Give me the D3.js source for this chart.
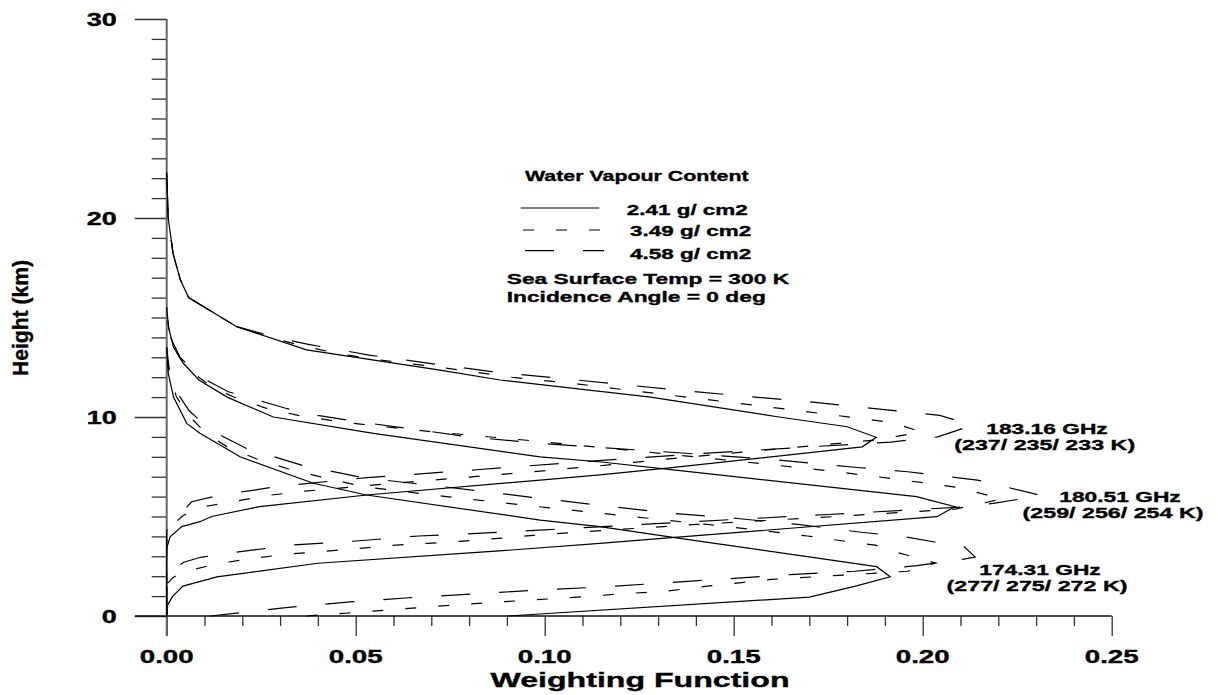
<!DOCTYPE html>
<html><head><meta charset="utf-8">
<script src="https://cdnjs.cloudflare.com/ajax/libs/d3/7.8.5/d3.min.js"></script>
<style>
body{margin:0;background:#fff}
svg{display:block}
text{font-family:"Liberation Sans",Arial,sans-serif;font-weight:bold;fill:#000;stroke:#000;stroke-width:0.35px}
</style>
</head><body>
<svg width="1218" height="695"></svg>
<script>
// ---------- DATA : [height km, weighting function] ----------
const xTicksMajor = [0, 0.05, 0.10, 0.15, 0.20, 0.25];
const xTickLabels = ["0.00", "0.05", "0.10", "0.15", "0.20", "0.25"];
const yTicksMajor = [0, 10, 20, 30];
const yTickLabels = ["0", "10", "20", "30"];

const seriesNames = ["2.41 g/ cm2", "3.49 g/ cm2", "4.58 g/ cm2"];
const channelNames = ["183.16 GHz", "180.51 GHz", "174.31 GHz"];
const channelTemps = ["(237/ 235/ 233 K)", "(259/ 256/ 254 K)", "(277/ 275/ 272 K)"];

const c183_241 = [[0,0],[3.4,0],[3.98,0.0009],[4.49,0.004],[4.74,0.0088],[5.0,0.0119],[5.5,0.0246],[6.08,0.0529],[6.83,0.0988],[7.09,0.1146],[7.44,0.133],[8.5,0.184],[8.98,0.1877],[9.51,0.180],[10.0,0.162],[11.0,0.128],[11.86,0.0882],[12.36,0.0723],[13.37,0.037],[14.54,0.0185],[16.0,0.0058],[16.9,0.0036],[18.2,0.0017],[20.0,0.0004],[22.3,0]];
const c183_349 = [[0,0],[4.0,0],[4.5,0.0012],[5.0,0.004],[5.33,0.007],[5.49,0.0097],[5.72,0.017],[6.04,0.026],[6.26,0.0357],[6.6,0.056],[7.28,0.0988],[7.55,0.1146],[7.9,0.133],[8.45,0.165],[8.85,0.188],[9.25,0.1996],[9.72,0.192],[10.3,0.168],[10.9,0.142],[11.42,0.119],[11.65,0.109],[12.0,0.0913],[12.5,0.072],[12.9,0.055],[13.19,0.0453],[13.52,0.0372],[13.98,0.0277],[14.54,0.0185],[16.0,0.0058],[16.9,0.0036],[18.2,0.0017],[20.0,0.0004],[22.3,0]];
const c183_458 = [[0,0],[4.3,0],[4.8,0.002],[5.3,0.0045],[5.74,0.0066],[6.08,0.0141],[6.3,0.0222],[6.53,0.030],[6.95,0.053],[7.35,0.082],[7.75,0.11],[8.15,0.14],[8.5,0.17],[8.74,0.1915],[9.0,0.204],[9.45,0.211],[9.6,0.213],[10.08,0.2045],[10.45,0.186],[10.8,0.168],[11.06,0.152],[11.36,0.135],[11.66,0.119],[11.96,0.103],[12.28,0.086],[12.68,0.07],[13.1,0.054],[13.65,0.0375],[14.0,0.029],[14.54,0.0185],[16.0,0.0058],[16.9,0.0036],[18.2,0.0017],[20.0,0.0004],[22.3,0]];

const c180_241 = [[0,0],[0.47,0],[0.97,0.0015],[1.5,0.0043],[1.97,0.0133],[2.65,0.040],[3.23,0.085],[3.65,0.1146],[3.9,0.131],[4.99,0.2037],[5.49,0.2085],[6.0,0.1984],[7.34,0.134],[7.74,0.115],[8.0,0.0988],[9.18,0.0547],[10.0,0.0282],[11.0,0.016],[11.86,0.0085],[12.7,0.0044],[13.5,0.0018],[14.5,0.0005],[15.5,0]];
const c180_349 = [[0,0],[1.6,0],[1.9,0.0015],[2.2,0.004],[2.64,0.0137],[2.89,0.0227],[3.11,0.0318],[3.24,0.0411],[3.39,0.0505],[3.55,0.0597],[3.65,0.069],[3.76,0.0784],[3.9,0.0877],[4.05,0.097],[4.18,0.106],[4.6,0.14],[5.0,0.177],[5.37,0.2085],[5.88,0.221],[6.45,0.2095],[6.88,0.193],[7.3,0.175],[7.8,0.15],[8.3,0.124],[8.8,0.097],[9.3,0.068],[9.75,0.046],[10.08,0.0348],[10.46,0.026],[10.94,0.0185],[11.5,0.012],[12.5,0.005],[13.5,0.0019],[14.5,0.0005],[15.5,0]];
const c180_458 = [[0,0],[2.0,0],[2.3,0.0013],[2.7,0.0045],[2.95,0.009],[3.18,0.0173],[3.57,0.0336],[3.77,0.0502],[4.02,0.0667],[4.16,0.0833],[4.33,0.0998],[4.7,0.135],[5.1,0.175],[5.49,0.2116],[5.66,0.2187],[6.05,0.2315],[6.83,0.2145],[7.1,0.2025],[7.25,0.196],[7.45,0.1835],[7.9,0.158],[8.3,0.128],[8.66,0.1],[9.0,0.08],[9.4,0.065],[9.75,0.051],[10.15,0.0375],[10.44,0.0315],[10.85,0.024],[11.27,0.0163],[12.0,0.009],[13.0,0.0035],[14.0,0.001],[15.5,0]];

const c174_241 = [[0,0.0902],[0.95,0.170],[1.51,0.1825],[1.97,0.1914],[2.48,0.1878],[3.85,0.1376],[4.49,0.1146],[4.82,0.0988],[6.08,0.0529],[6.67,0.0388],[8.0,0.0194],[9.18,0.0088],[9.68,0.0053],[11.0,0.0018],[12.2,0.0004],[13.5,0]];
const c174_349 = [[0,0.037],[0.15,0.0479],[0.42,0.0665],[0.67,0.0851],[0.89,0.1039],[1.14,0.1226],[1.24,0.1318],[1.5,0.143],[1.68,0.152],[1.84,0.160],[2.25,0.196],[2.66,0.2035],[3.23,0.1925],[3.56,0.1875],[3.78,0.1785],[4.02,0.1695],[4.24,0.16],[4.6,0.143],[5.0,0.123],[5.5,0.098],[6.0,0.074],[6.5,0.052],[7.0,0.0405],[7.4,0.032],[7.9,0.0237],[8.5,0.016],[9.2,0.0103],[10.0,0.0062],[11.0,0.0026],[12.2,0.0006],[13.5,0]];
const c174_458 = [[0,0.0115],[0.17,0.02],[0.45,0.0328],[0.72,0.0493],[0.94,0.0658],[1.12,0.0823],[1.31,0.0989],[1.46,0.1154],[1.67,0.1321],[1.87,0.1485],[2.08,0.165],[2.25,0.182],[2.53,0.1985],[2.86,0.2108],[2.96,0.2139],[3.47,0.2111],[3.73,0.2028],[3.98,0.1953],[4.22,0.1832],[4.6,0.167],[4.9,0.151],[5.16,0.1336],[5.6,0.113],[6.0,0.095],[6.5,0.073],[6.95,0.052],[7.56,0.036],[8.43,0.021],[9.3,0.012],[10.3,0.006],[11.3,0.0025],[12.5,0.0006],[13.5,0]];

// ---------- CHART ----------
const svg = d3.select("svg");
const x = d3.scaleLinear().domain([0, 0.25]).range([166.7, 1111.7]);
const y = d3.scaleLinear().domain([0, 30]).range([616, 19]);

const dashes = [null, "11,22", "29,29"];

function stext(str, tx, ty, size, sx, anchor, rot) {
  const g = svg.append("g")
    .attr("transform", `translate(${tx},${ty})` + (rot ? ` rotate(${rot})` : "") + ` scale(${sx},1)`);
  g.append("text").attr("x", 0).attr("y", 0)
    .attr("font-size", size).attr("text-anchor", anchor || "start").text(str);
  return g;
}

// y axis ticks
const yMinor = d3.range(0, 31).filter(v => v % 10 !== 0);
const gy = svg.append("g").attr("transform", "translate(166.7,0)");
gy.call(d3.axisLeft(y).tickValues(yMinor).tickSize(15).tickSizeOuter(0).tickFormat(""));
gy.call(g => g.select(".domain").remove());
const gy2 = svg.append("g").attr("transform", "translate(166.7,0)");
gy2.call(d3.axisLeft(y).tickValues(yTicksMajor).tickSize(32).tickSizeOuter(0).tickFormat(""));
gy2.call(g => g.select(".domain").remove());

// x axis ticks
const xMinor = d3.range(0, 26).map(i => i / 100).filter((v, i) => i % 5 !== 0);
const gx = svg.append("g").attr("transform", "translate(0,616)");
gx.call(d3.axisBottom(x).tickValues(xMinor).tickSize(10).tickSizeOuter(0).tickFormat(""));
gx.call(g => g.select(".domain").remove());
const gx2 = svg.append("g").attr("transform", "translate(0,616)");
gx2.call(d3.axisBottom(x).tickValues(xTicksMajor).tickSize(20).tickSizeOuter(0).tickFormat(""));
gx2.call(g => g.select(".domain").remove());

svg.selectAll(".tick line").attr("stroke", "#333").attr("stroke-width", 1.3);

// axis lines
svg.append("line").attr("x1", 166.7).attr("x2", 166.7).attr("y1", y(30)).attr("y2", 636)
  .attr("stroke", "#666").attr("stroke-width", 2);
svg.append("line").attr("x1", 135).attr("x2", x(0.25)).attr("y1", y(0)).attr("y2", y(0))
  .attr("stroke", "#111").attr("stroke-width", 1.3);

// tick labels
xTicksMajor.forEach((v, i) => stext(xTickLabels[i], x(v), 663, 18.5, 1.5, "middle"));
yTicksMajor.forEach((v, i) => stext(yTickLabels[i], 116.7, y(v) + 6.5, 18, 1.5, "end"));

// axis titles
stext("Weighting Function", 640, 686.5, 21, 1.53, "middle");
stext("Height (km)", 27.5, 318, 22, 0.96, "middle", -90);

// curves
const line = d3.line().x(d => x(d[1])).y(d => y(d[0]));
const curves = [
  [c183_241, 0], [c183_349, 1], [c183_458, 2],
  [c180_241, 0], [c180_349, 1], [c180_458, 2],
  [c174_241, 0], [c174_349, 1], [c174_458, 2]
];
curves.forEach(([data, s]) => {
  svg.append("path").datum(data).attr("d", line)
    .attr("fill", "none").attr("stroke", "#000").attr("stroke-width", 1.2)
    .attr("stroke-linejoin", "miter")
    .attr("stroke-dasharray", dashes[s]);
});

// legend
stext("Water Vapour Content", 525, 180.7, 15.5, 1.38, "start");
const legY = [208, 230, 250.7];
const legX0 = [520.7, 523, 525];
const legTx = [626.7, 630, 630];
const legBase = [215, 236, 258.5];
seriesNames.forEach((n, i) => {
  svg.append("line").attr("x1", legX0[i]).attr("x2", i === 0 ? 599.3 : 604)
    .attr("y1", legY[i]).attr("y2", legY[i])
    .attr("stroke", "#000").attr("stroke-width", 1.2).attr("stroke-dasharray", dashes[i]);
  stext(n, legTx[i], legBase[i], 15.5, 1.45, "start");
});
stext("Sea Surface Temp = 300 K", 506.7, 284, 15.5, 1.47, "start");
stext("Incidence Angle = 0 deg", 506.7, 301.5, 15.5, 1.47, "start");

// channel labels
const chCx = [1047, 1120, 1040];
const chCx2 = [1044.7, 1113, 1037];
const chBase = [434.3, 501.7, 575];
channelNames.forEach((n, i) => {
  stext(n, chCx[i], chBase[i], 15.5, 1.47, "middle");
  stext(channelTemps[i], chCx2[i], chBase[i] + 15.8, 15.5, 1.5, "middle");
});
</script>
</body></html>
